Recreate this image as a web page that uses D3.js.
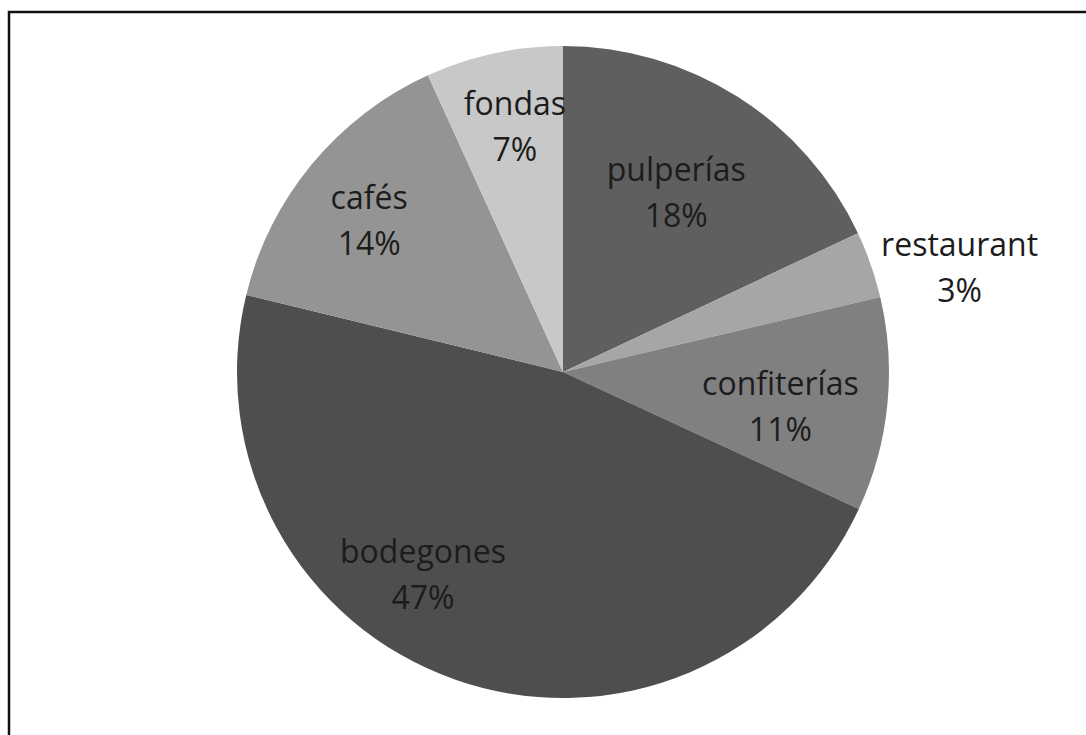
<!DOCTYPE html>
<html>
<head>
<meta charset="utf-8">
<script src="https://cdn.jsdelivr.net/npm/d3@7"></script>
<style>
  html, body { margin: 0; padding: 0; background: #fff; }
  svg { display: block; }
</style>
</head>
<body>
<div id="app"></div>
<script>
// Data (clockwise from 12 o'clock)
const categories = ["pulperías", "restaurant", "confiterías", "bodegones", "cafés", "fondas"];
const values = [18.0, 3.3, 10.6, 46.9, 14.4, 6.8];

// Styles / placement kept apart from the data
const fills = ["#5f5f5f", "#a6a6a6", "#808080", "#4e4e4e", "#949494", "#c8c8c8"];
// label anchor as [angle from north in degrees, distance from centre in px]
const labelPolar = [[32.3, 212], [75.3, 410], [98.9, 220], [214.7, 246], [308, 246], [348.9, 250]];

const width = 1086, height = 735;
const cx = 563, cy = 372, radius = 326;
const fontSize = 32, lineGap = 46;

const svg = d3.select("#app").append("svg")
  .attr("width", width)
  .attr("height", height);

// outer frame: only top & left visible, it runs off the page on the other sides
svg.append("rect")
  .attr("x", 9)
  .attr("y", 12)
  .attr("width", width + 20)
  .attr("height", height + 20)
  .attr("fill", "none")
  .attr("stroke", "#111")
  .attr("stroke-width", 2.5);

const total = d3.sum(values);
const table = categories.map((c, i) => ({ name: c, value: values[i], i }));

const pie = d3.pie()
  .value(d => d.value)
  .sort(null);

const arc = d3.arc()
  .innerRadius(0)
  .outerRadius(radius);

const g = svg.append("g").attr("transform", `translate(${cx},${cy})`);

g.selectAll("path")
  .data(pie(table))
  .join("path")
  .attr("d", arc)
  .attr("fill", d => fills[d.data.i]);

// labels: name + rounded percent
const labels = g.append("g")
  .attr("font-family", "'Open Sans', 'DejaVu Sans', sans-serif")
  .attr("font-size", fontSize)
  .attr("fill", "#1c1c1c")
  .attr("text-anchor", "middle")
  .selectAll("text")
  .data(table)
  .join("text")
  .attr("transform", d => {
    const [deg, r] = labelPolar[d.i];
    const a = deg * Math.PI / 180;
    return `translate(${r * Math.sin(a)},${-r * Math.cos(a)})`;
  });

labels.append("tspan")
  .attr("x", 0)
  .attr("y", -lineGap / 2 + fontSize * 0.36)
  .text(d => d.name);

labels.append("tspan")
  .attr("x", 0)
  .attr("y", lineGap / 2 + fontSize * 0.36)
  .text(d => Math.round(d.value / total * 100) + "%");
</script>
</body>
</html>
